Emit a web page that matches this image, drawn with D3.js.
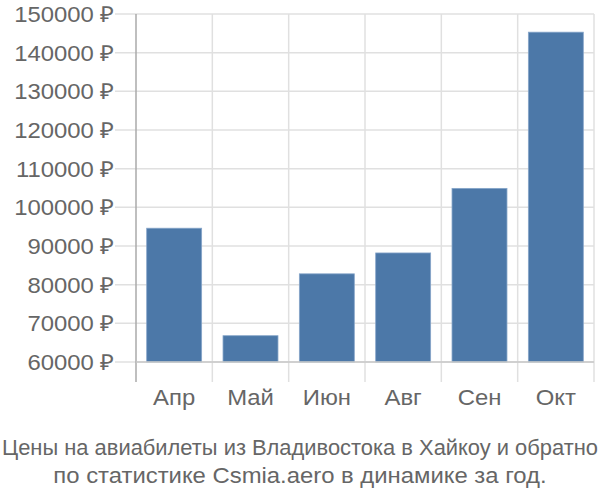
<!DOCTYPE html>
<html><head><meta charset="utf-8">
<script src="https://cdn.jsdelivr.net/npm/d3@7"></script>
<style>body{margin:0;background:#fff}svg{display:block}text{font-family:"Liberation Sans",Arial,sans-serif;fill:#666}</style>
</head><body><svg id="c" width="600" height="500"></svg>
<script>
const months = ["Апр","Май","Июн","Авг","Сен","Окт"];
const prices = [94600, 66800, 82800, 88200, 104900, 145300];
const yTicks = [60000,70000,80000,90000,100000,110000,120000,130000,140000,150000];
const titleLines = ["Цены на авиабилеты из Владивостока в Хайкоу и обратно","по статистике Csmia.aero в динамике за год."];

const svg = d3.select("#c");
const L=136, R=594, T=14, B=362;
const SX = 1.085;
const x = d3.scaleBand().domain(months).range([L,R]).paddingInner(0.28).paddingOuter(0.14);
const y = d3.scaleLinear().domain([60000,150000]).range([B,T]);

svg.append("g").selectAll("line").data(yTicks).join("line")
  .attr("x1",115).attr("x2",R).attr("y1",d=>y(d)).attr("y2",d=>y(d))
  .attr("stroke","#e0e0e0").attr("stroke-width",1.5);
const bounds = months.map(m=>x(m)-x.step()*x.paddingInner()/2).concat([R]);
svg.append("g").selectAll("line").data(bounds.slice(1)).join("line")
  .attr("x1",d=>d).attr("x2",d=>d).attr("y1",T).attr("y2",382)
  .attr("stroke","#e0e0e0").attr("stroke-width",1.5);

svg.append("g").selectAll("rect").data(prices).join("rect")
  .attr("x",(d,i)=>x(months[i])).attr("width",x.bandwidth())
  .attr("y",d=>y(d)).attr("height",d=>B-y(d))
  .attr("fill","#4c78a8").attr("stroke","#86a5c9").attr("stroke-width",0.8);

svg.append("line").attr("x1",L).attr("x2",L).attr("y1",T).attr("y2",382).attr("stroke","#aaa").attr("stroke-width",1.5);
svg.append("line").attr("x1",L).attr("x2",R).attr("y1",B).attr("y2",B).attr("stroke","#c8c8c8").attr("stroke-width",1.5);

svg.append("g").selectAll("text").data(yTicks).join("text")
  .attr("transform",d=>`translate(114,${y(d)}) scale(${SX},1)`)
  .attr("dy","0.36em").attr("text-anchor","end")
  .attr("font-size",22).text(d=>d+" ₽");
svg.append("g").selectAll("text").data(months).join("text")
  .attr("transform",d=>`translate(${x(d)+x.bandwidth()/2},405) scale(${SX},1)`)
  .attr("text-anchor","middle")
  .attr("font-size",22).text(d=>d);
svg.append("text").attr("x",300).attr("y",455).attr("text-anchor","middle")
  .attr("font-size",22).attr("textLength",596).attr("lengthAdjust","spacingAndGlyphs").text(titleLines[0]);
svg.append("text").attr("transform",`translate(300,483) scale(${SX},1)`).attr("text-anchor","middle")
  .attr("font-size",22).text(titleLines[1]);
</script></body></html>
